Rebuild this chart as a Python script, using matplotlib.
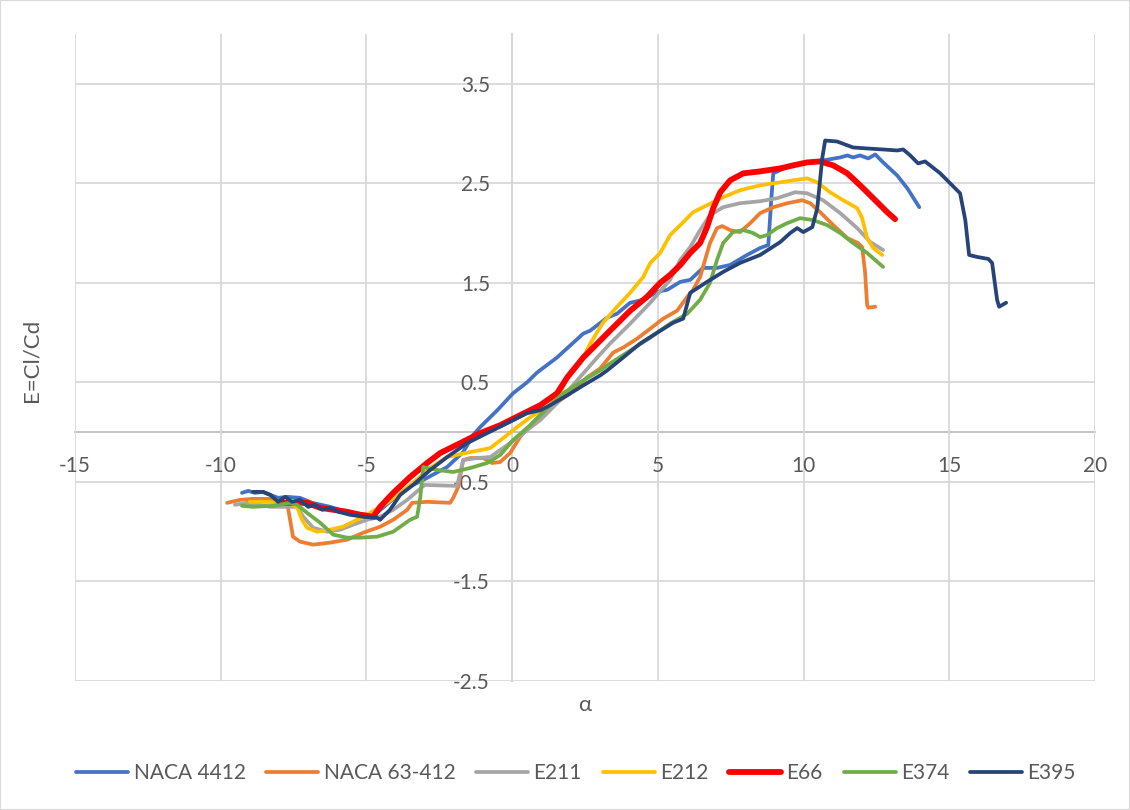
import matplotlib
matplotlib.use("Agg")
import matplotlib.pyplot as plt
from matplotlib.patches import Rectangle

# Lift-to-drag ratio E = Cl/Cd versus angle of attack alpha (deg) for several airfoils
naca4412_alpha = [-9.27, -9.06, -8.82, -8.58, -8.30, -8.03, -7.72, -7.28, -6.86, -6.25, -5.90, -5.46,
                  -4.98, -4.60, -4.20, -3.60, -3.05, -2.23, -1.68, -1.34, -1.10, -0.51, 0.03, 0.51,
                  0.86, 1.54, 1.99, 2.44, 2.68, 3.26, 3.60, 4.05, 4.50, 4.98, 5.32, 5.77, 6.11, 6.55,
                  7.03, 7.48, 8.06, 8.51, 8.79, 8.89, 8.96, 9.54, 10.12, 10.67, 11.26, 11.50, 11.70,
                  11.94, 12.22, 12.46, 12.73, 13.21, 13.56, 13.97]
naca4412_E = [-0.61, -0.59, -0.61, -0.60, -0.63, -0.66, -0.65, -0.66, -0.71, -0.75, -0.78, -0.81,
              -0.83, -0.80, -0.70, -0.56, -0.48, -0.35, -0.20, -0.03, 0.05, 0.22, 0.39, 0.50,
              0.60, 0.75, 0.87, 0.99, 1.02, 1.15, 1.19, 1.30, 1.33, 1.41, 1.43, 1.51, 1.53, 1.65,
              1.65, 1.68, 1.78, 1.85, 1.88, 2.33, 2.60, 2.68, 2.71, 2.73, 2.76, 2.78, 2.76,
              2.78, 2.75, 2.79, 2.71, 2.58, 2.45, 2.26]

naca63412_alpha = [-9.78, -9.33, -8.89, -8.30, -7.72, -7.62, -7.52, -7.28, -6.83, -6.25, -5.66, -5.11,
                   -4.53, -4.08, -3.60, -3.43, -2.92, -2.13, -2.02, -1.85, -1.68, -1.44, -1.00, -0.69,
                   -0.41, -0.07, 0.27, 0.72, 1.30, 1.99, 2.57, 3.02, 3.47, 3.81, 4.29, 4.74, 5.18,
                   5.66, 6.01, 6.21, 6.45, 6.62, 6.79, 7.03, 7.21, 7.48, 7.82, 8.17, 8.51, 8.96,
                   9.44, 9.95, 10.23, 10.57, 11.02, 11.50, 11.87, 12.01, 12.11, 12.18, 12.22, 12.46]
naca63412_E = [-0.71, -0.68, -0.67, -0.67, -0.71, -0.88, -1.05, -1.10, -1.13, -1.11, -1.08, -1.01,
               -0.95, -0.88, -0.78, -0.71, -0.70, -0.71, -0.66, -0.55, -0.28, -0.26, -0.26, -0.31,
               -0.30, -0.21, -0.05, 0.10, 0.25, 0.39, 0.55, 0.64, 0.80, 0.85, 0.94, 1.04, 1.14,
               1.22, 1.36, 1.43, 1.56, 1.73, 1.90, 2.05, 2.07, 2.03, 2.01, 2.10, 2.20, 2.26,
               2.30, 2.33, 2.30, 2.21, 2.08, 1.95, 1.90, 1.86, 1.61, 1.28, 1.25, 1.26]

e211_alpha = [-9.51, -9.09, -8.30, -7.38, -7.17, -6.83, -6.35, -5.90, -5.46, -4.98, -4.53, -4.08,
              -3.60, -3.00, -1.89, -1.68, -1.20, -0.75, -0.51, -0.07, 0.38, 0.96, 1.54, 2.23, 2.92,
              3.36, 4.05, 4.74, 5.42, 5.77, 6.11, 6.45, 6.79, 7.24, 7.82, 8.51, 9.09, 9.71, 10.12,
              10.67, 11.26, 11.84, 12.29, 12.73]
e211_E = [-0.73, -0.71, -0.75, -0.75, -0.85, -0.96, -1.00, -0.98, -0.93, -0.88, -0.85, -0.78,
          -0.68, -0.53, -0.54, -0.28, -0.26, -0.25, -0.20, -0.11, -0.01, 0.12, 0.29, 0.52, 0.75,
          0.89, 1.09, 1.30, 1.53, 1.73, 1.86, 2.03, 2.18, 2.26, 2.30, 2.32, 2.35, 2.41, 2.40,
          2.33, 2.20, 2.05, 1.91, 1.83]

e212_alpha = [-9.00, -8.54, -7.72, -7.38, -7.21, -7.04, -6.69, -6.25, -5.80, -5.32, -4.87, -4.29,
              -3.84, -3.40, -2.81, -2.23, -1.44, -0.75, -0.31, 0.17, 0.62, 1.20, 1.65, 1.89, 2.44,
              2.68, 3.12, 3.60, 4.05, 4.50, 4.74, 5.08, 5.42, 5.77, 6.21, 6.69, 7.24, 7.82, 8.51,
              9.20, 9.64, 10.12, 10.47, 10.91, 11.36, 11.84, 12.01, 12.18, 12.39, 12.70]
e212_E = [-0.70, -0.70, -0.71, -0.75, -0.88, -0.96, -1.00, -0.98, -0.95, -0.88, -0.81, -0.71,
          -0.61, -0.51, -0.36, -0.25, -0.20, -0.16, -0.06, 0.05, 0.15, 0.25, 0.39, 0.55, 0.75,
          0.89, 1.10, 1.26, 1.40, 1.56, 1.70, 1.80, 1.98, 2.08, 2.21, 2.28, 2.36, 2.43, 2.48,
          2.51, 2.53, 2.55, 2.51, 2.41, 2.33, 2.25, 2.15, 1.95, 1.85, 1.78]

e66_alpha = [-7.86, -7.04, -6.59, -6.14, -5.66, -5.22, -4.77, -4.53, -4.08, -3.50, -2.92, -2.47,
             -1.78, -1.10, -0.41, 0.27, 0.96, 1.54, 1.89, 2.44, 2.92, 3.36, 4.05, 4.63, 5.08,
             5.42, 5.77, 6.11, 6.45, 6.69, 6.90, 7.14, 7.48, 7.93, 8.51, 9.20, 9.64, 10.12,
             10.57, 11.02, 11.50, 11.94, 12.39, 12.87, 13.14]
e66_E = [-0.71, -0.71, -0.76, -0.78, -0.80, -0.83, -0.85, -0.75, -0.61, -0.45, -0.31, -0.21,
         -0.11, -0.01, 0.07, 0.17, 0.27, 0.39, 0.55, 0.75, 0.89, 1.02, 1.22, 1.36, 1.50,
         1.58, 1.68, 1.80, 1.90, 2.06, 2.25, 2.41, 2.53, 2.60, 2.62, 2.65, 2.68, 2.71,
         2.72, 2.68, 2.60, 2.48, 2.35, 2.21, 2.14]

e374_alpha = [-9.27, -8.89, -8.20, -7.62, -7.38, -7.04, -6.59, -6.14, -5.66, -5.22, -4.63, -4.08,
              -3.50, -3.26, -3.15, -3.05, -2.92, -2.57, -2.02, -1.44, -0.86, -0.41, 0.03, 0.62,
              1.20, 1.75, 2.44, 3.02, 3.36, 4.05, 4.74, 5.42, 6.01, 6.45, 6.79, 7.03, 7.24, 7.58,
              7.93, 8.27, 8.51, 8.75, 9.09, 9.44, 9.88, 10.33, 10.81, 11.26, 11.70, 12.18, 12.73]
e374_E = [-0.74, -0.75, -0.74, -0.71, -0.73, -0.81, -0.91, -1.03, -1.06, -1.06, -1.05, -1.00,
          -0.88, -0.85, -0.65, -0.35, -0.36, -0.38, -0.40, -0.36, -0.31, -0.23, -0.08, 0.07,
          0.24, 0.39, 0.52, 0.62, 0.69, 0.82, 0.95, 1.09, 1.19, 1.33, 1.50, 1.73, 1.90, 2.01,
          2.03, 2.00, 1.96, 1.98, 2.05, 2.10, 2.15, 2.13, 2.08, 2.00, 1.90, 1.80, 1.66]

e395_alpha = [-8.89, -8.54, -8.30, -8.03, -7.79, -7.55, -7.28, -7.00, -6.76, -6.52, -6.25, -5.97,
              -5.56, -5.11, -4.63, -4.53, -4.19, -3.84, -3.40, -2.81, -2.23, -1.54, -0.86, -0.17,
              0.51, 0.96, 1.30, 1.89, 2.44, 3.02, 3.26, 3.81, 4.39, 4.98, 5.53, 5.87, 6.11, 6.69,
              7.24, 7.82, 8.51, 9.20, 9.54, 9.78, 9.99, 10.30, 10.47, 10.64, 10.74, 11.15, 11.70,
              12.18, 12.73, 13.21, 13.42, 13.66, 13.93, 14.17, 14.69, 15.20, 15.37, 15.55, 15.68,
              15.96, 16.34, 16.47, 16.64, 16.71, 16.95]
e395_E = [-0.60, -0.60, -0.63, -0.70, -0.65, -0.70, -0.68, -0.75, -0.73, -0.78, -0.76, -0.80,
          -0.83, -0.85, -0.86, -0.88, -0.78, -0.63, -0.53, -0.38, -0.25, -0.11, -0.01, 0.09,
          0.19, 0.22, 0.27, 0.37, 0.47, 0.57, 0.62, 0.75, 0.89, 1.00, 1.10, 1.14, 1.40, 1.51,
          1.61, 1.70, 1.78, 1.91, 2.00, 2.05, 2.01, 2.06, 2.25, 2.75, 2.93, 2.92, 2.86,
          2.85, 2.84, 2.83, 2.84, 2.78, 2.70, 2.72, 2.60, 2.45, 2.40, 2.13, 1.78,
          1.76, 1.74, 1.70, 1.33, 1.26, 1.30]

series_names = ["NACA 4412", "NACA 63-412", "E211", "E212", "E66", "E374", "E395"]
series_alpha = [naca4412_alpha, naca63412_alpha, e211_alpha, e212_alpha, e66_alpha, e374_alpha, e395_alpha]
series_E = [naca4412_E, naca63412_E, e211_E, e212_E, e66_E, e374_E, e395_E]
series_colors = ["#4472C4", "#ED7D31", "#A5A5A5", "#FFC000", "#FF0000", "#70AD47", "#264478"]
series_widths = [2.7, 2.7, 2.7, 2.7, 4.2, 2.7, 2.7]

x_ticks = [-15, -10, -5, 0, 5, 10, 15, 20]
y_ticks = [-2.5, -1.5, -0.5, 0.5, 1.5, 2.5, 3.5]

TEXT = "#595959"
plt.rcParams['font.family'] = ['Lato', 'DejaVu Sans']

W, H = 1130, 810
fig = plt.figure(figsize=(W / 100, H / 100), dpi=100)
ax = fig.add_axes([75 / W, 1 - 681 / H, 1020 / W, 647 / H])

lines = []
for a, e, c, lw, name in zip(series_alpha, series_E, series_colors, series_widths, series_names):
    ln, = ax.plot(a, e, color=c, lw=lw, label=name,
                  solid_joinstyle="round", solid_capstyle="round")
    lines.append(ln)

ax.set_xlim(-15, 20)
ax.set_ylim(-2.5, 4.0)
ax.set_xticks(x_ticks)
ax.set_xticklabels([f"{v:g}" for v in x_ticks])
ax.set_yticks(y_ticks)
ax.set_yticklabels([f"{v:g}" for v in y_ticks])

ax.grid(True, color="#D9D9D9", lw=1.3)
ax.set_axisbelow(True)
for s in ["top", "right"]:
    ax.spines[s].set_visible(False)
ax.spines["left"].set_position(("data", 0))
ax.spines["bottom"].set_position(("data", 0))
for s in ["left", "bottom"]:
    ax.spines[s].set_color("#BFBFBF")
    ax.spines[s].set_linewidth(1.3)
    ax.spines[s].set_zorder(0.5)
ax.tick_params(axis="both", length=0, labelsize=15, labelcolor=TEXT)
ax.tick_params(axis="y", pad=16)
ax.tick_params(axis="x", pad=17)

fig.text(585 / W, 1 - 705 / H, "α", ha="center", va="center", fontsize=16, color=TEXT)
fig.text(32 / W, 1 - 360 / H, "E=Cl/Cd", ha="center", va="center", rotation=90,
         fontsize=16, color=TEXT)

leg = fig.legend(handles=lines, labels=series_names, loc="center",
                 bbox_to_anchor=(0.5 + 11 / W, 1 - 773 / H), ncol=7, frameon=False,
                 fontsize=15, handlelength=2.5, handletextpad=0.25, columnspacing=1.0)
for t in leg.get_texts():
    t.set_color(TEXT)

fig.add_artist(Rectangle((0, 0), 1, 1, transform=fig.transFigure, fill=False,
                         ec="#D9D9D9", lw=1.5))

fig.savefig("out.png", dpi=100)
